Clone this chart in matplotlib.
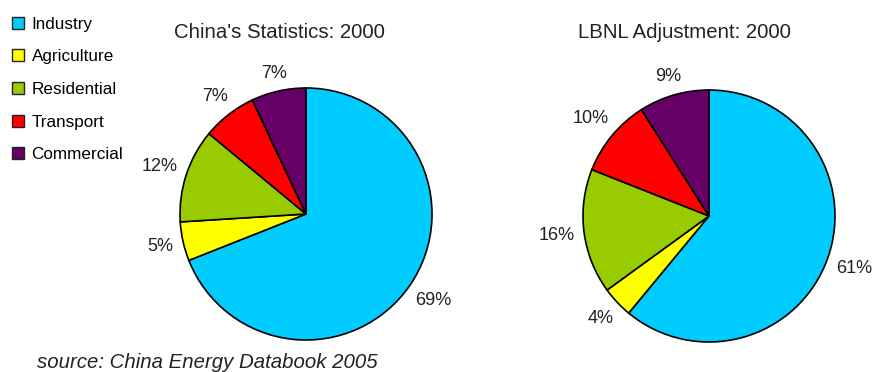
import matplotlib
matplotlib.use("Agg")
import numpy as np
import matplotlib.pyplot as plt
from matplotlib.patches import Patch

categories = ["Industry", "Agriculture", "Residential", "Transport", "Commercial"]
china_stats = [69, 5, 12, 7, 7]
lbnl_adjust = [61, 4, 16, 10, 9]
titles = ["China's Statistics: 2000", "LBNL Adjustment: 2000"]
colors = ["#00CCFF", "#FFFF00", "#99CC00", "#FF0000", "#660066"]

W, H = 872, 372
plt.rcParams["font.family"] = ["Liberation Sans", "DejaVu Sans"]
fig = plt.figure(figsize=(W / 100, H / 100), dpi=100)
fig.patch.set_facecolor("white")
TXT = "#222222"

pies = []

def add_pie(cx, cy, r, values, title, tx):
    ax = fig.add_axes([(cx - r) / W, (H - cy - r) / H, 2 * r / W, 2 * r / H])
    wedges, texts = ax.pie(values, colors=colors, startangle=90, counterclock=False,
                           labels=[f"{v}%" for v in values], labeldistance=1.2,
                           wedgeprops=dict(edgecolor="black", linewidth=1.2),
                           textprops=dict(fontsize=13, color=TXT))
    for t in texts:
        t.set_ha("center")
        t.set_va("center")
    ax.set_xlim(-1.0, 1.0)
    ax.set_ylim(-1.0, 1.0)
    ax.set_aspect("equal")
    ax.axis("off")
    fig.text(tx / W, 1 - 32 / H, title, ha="center", va="center", fontsize=14.7, color=TXT)
    pies.append((r, wedges, texts))
    return wedges

add_pie(306, 214, 126, china_stats, titles[0], 279)
add_pie(709, 216, 126, lbnl_adjust, titles[1], 684)

# place labels just outside the rim (gap measured to the label box)
renderer = fig.canvas.get_renderer()
gap = 9.0
for r, wedges, texts in pies:
    for w, t in zip(wedges, texts):
        th = np.deg2rad(0.5 * (w.theta1 + w.theta2))
        bb = t.get_window_extent(renderer)
        hw, hh = bb.width / 2, bb.height / 2 * 0.8
        d = r + gap + hw * abs(np.cos(th)) + hh * abs(np.sin(th))
        t.set_position((d / r * np.cos(th), d / r * np.sin(th)))

handles = [Patch(facecolor=c, edgecolor=TXT, linewidth=1.0) for c in colors]
fig.legend(handles, categories, loc="upper left", bbox_to_anchor=(5 / W, 1 - 10 / H),
           frameon=False, fontsize=12.3, labelspacing=1.03, handlelength=0.7,
           handleheight=0.7, handletextpad=0.45, borderaxespad=0)

fig.text(37 / W, 1 - 362 / H, "source: China Energy Databook 2005", ha="left", va="center",
         fontsize=14.7, style="italic", color=TXT)

fig.savefig("out.png", dpi=100)
